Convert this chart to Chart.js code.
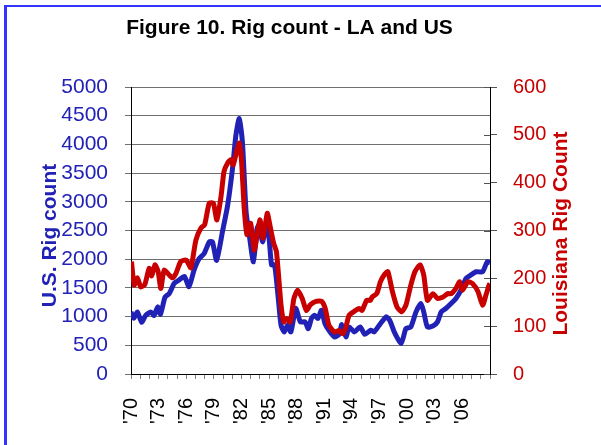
<!DOCTYPE html>
<html>
<head>
<meta charset="utf-8">
<script src="https://cdn.jsdelivr.net/npm/chart.js@4"></script>
<style>
  html, body { margin: 0; padding: 0; background: #fff; overflow: hidden; }
  #frame { position: absolute; left: 4px; top: 5px; width: 700px; height: 500px;
           border-left: 3px solid #3333ff; border-top: 2px solid #3333ff; }
  #wrap { position: absolute; left: 0; top: 0; width: 601px; height: 445px; }
</style>
</head>
<body>
<div id="frame"></div>
<div id="wrap"><canvas id="rig-chart" width="601" height="445"></canvas></div>
<script>
// ── Data (x = year, fractional) ─────────────────────────────────
const CHART_TITLE = 'Figure 10. Rig count - LA and US';
const US_TITLE    = 'U.S. Rig count';
const LA_TITLE    = 'Louisiana Rig Count';

const usYears = [
  1970.0, 1970.3, 1970.7, 1971.15, 1971.6, 1972.15, 1972.5, 1972.9, 1973.2, 1973.7,
  1974.15, 1974.7, 1975.2, 1975.8, 1976.3, 1976.85, 1977.4, 1977.95, 1978.5, 1978.85,
  1979.3, 1979.95, 1980.5, 1981.03, 1981.4, 1981.76, 1982.1, 1982.5, 1982.85, 1983.3,
  1983.7, 1983.9, 1984.3, 1984.65, 1985.0, 1985.27, 1985.6, 1986.0, 1986.3, 1986.65,
  1987.0, 1987.37, 1987.9, 1988.4, 1988.9, 1989.26, 1989.6, 1989.95, 1990.3, 1990.7,
  1991.07, 1991.5, 1992.1, 1992.6, 1992.9, 1993.35, 1993.7, 1994.26, 1994.9, 1995.4,
  1996.05, 1996.4, 1996.97, 1997.7, 1998.1, 1998.6, 1999.35, 1999.87, 2000.4, 2000.96,
  2001.5, 2001.8, 2002.2, 2002.8, 2003.3, 2003.7, 2004.2, 2004.77, 2005.3, 2005.85,
  2006.4, 2006.9, 2007.5, 2008.2, 2008.7, 2009.0,
];
const usRigs = [
  1080, 970, 1080, 900, 1020, 1080, 1020, 1170, 1040, 1340,
  1400, 1580, 1635, 1700, 1520, 1810, 2010, 2100, 2300, 2300,
  1980, 2490, 2940, 3585, 4166, 4450, 4050, 2830, 2420, 1955,
  2540, 2595, 2300, 2595, 2360, 1900, 1900, 1316, 850, 733,
  850, 733, 1141, 908, 908, 790, 967, 1024, 967, 1111,
  879, 763, 646, 690, 862, 646, 820, 733, 820, 690,
  763, 733, 850, 995, 937, 733, 530, 792, 820, 1082,
  1228, 1082, 820, 835, 908, 1082, 1141, 1228, 1316, 1461,
  1665, 1723, 1781, 1781, 1955, 1937,
];

const laYears = [
  1970.05, 1970.35, 1970.7, 1971.05, 1971.5, 1971.97, 1972.25, 1972.6, 1972.95, 1973.24,
  1973.6, 1974.15, 1974.5, 1974.9, 1975.4, 1976.0, 1976.5, 1977.05, 1977.6, 1978.0,
  1978.5, 1978.95, 1979.33, 1979.8, 1980.1, 1980.5, 1980.85, 1981.1, 1981.35, 1981.76,
  1982.0, 1982.3, 1982.6, 1983.0, 1983.4, 1984.0, 1984.35, 1984.8, 1985.15, 1985.5,
  1985.8, 1986.3, 1986.6, 1986.9, 1987.3, 1987.7, 1988.1, 1988.6, 1989.05, 1989.5,
  1990.1, 1990.7, 1991.1, 1991.5, 1992.1, 1992.6, 1993.0, 1993.3, 1993.7, 1994.25,
  1994.8, 1995.1, 1995.6, 1996.0, 1996.2, 1996.7, 1997.1, 1997.5, 1997.9, 1998.4,
  1998.9, 1999.4, 1999.87, 2000.4, 2000.85, 2001.4, 2001.8, 2002.2, 2002.8, 2003.3,
  2003.9, 2004.4, 2004.8, 2005.3, 2005.7, 2006.0, 2006.6, 2007.1, 2007.7, 2008.2,
  2008.56, 2008.9, 2009.0,
];
const laRigs = [
  235, 186, 201, 182, 187, 221, 205, 228, 214, 179,
  217, 207, 201, 211, 235, 238, 222, 280, 305, 312,
  357, 357, 322, 374, 423, 441, 448, 437, 455, 483,
  447, 346, 291, 315, 259, 322, 284, 336, 305, 273,
  256, 144, 109, 116, 109, 158, 175, 158, 133, 145,
  152, 152, 137, 102, 88, 91, 84, 95, 123, 131,
  137, 133, 154, 154, 161, 168, 193, 207, 214, 172,
  140, 130, 144, 186, 214, 228, 207, 154, 168, 158,
  161, 168, 168, 179, 193, 175, 193, 189, 172, 144,
  165, 186, 189,
];

const labelYears = [1970, 1973, 1976, 1979, 1982, 1985, 1988, 1991, 1994, 1997, 2000, 2003, 2006];

const BLUE = '#2121b5';
const RED  = '#c80000';
const FONT = 'Arial, "Liberation Sans", sans-serif';

Chart.defaults.font.family = FONT;

// axis titles read bottom-to-top on both sides, plus the inner half of the right ticks
const axisTitles = {
  id: 'axisTitles',
  afterDraw(chart) {
    const c = chart.ctx;
    const area = chart.chartArea;
    const y1 = chart.scales.y1;
    c.save();
    c.strokeStyle = '#555';
    c.lineWidth = 1;
    y1.ticks.forEach(t => {
      const py = Math.round(y1.getPixelForValue(t.value)) + 0.5;
      c.beginPath();
      c.moveTo(area.right - 6, py);
      c.lineTo(area.right, py);
      c.stroke();
    });

    c.fillStyle = '#000';
    c.font = 'bold 21px ' + FONT;
    c.textAlign = 'center';
    c.textBaseline = 'alphabetic';
    c.fillText(CHART_TITLE, 289.5, 34);

    c.fillStyle = BLUE;
    c.translate(56, 235.5);
    c.rotate(-Math.PI / 2);
    c.fillText(US_TITLE, 0, 0);
    c.setTransform(1, 0, 0, 1, 0, 0);

    c.fillStyle = RED;
    c.translate(567, 233.5);
    c.rotate(-Math.PI / 2);
    c.fillText(LA_TITLE, 0, 0);
    c.restore();
  },
};

new Chart(document.getElementById('rig-chart'), {
  type: 'line',
  data: {
    datasets: [
      {
        label: 'Louisiana',
        data: laYears.map((x, i) => ({ x, y: laRigs[i] })),
        yAxisID: 'y1',
        borderColor: RED,
        borderWidth: 5,
        pointRadius: 0,
        tension: 0.2,
        order: 0,
      },
      {
        label: 'U.S.',
        data: usYears.map((x, i) => ({ x, y: usRigs[i] })),
        yAxisID: 'y',
        borderColor: BLUE,
        borderWidth: 5,
        pointRadius: 0,
        tension: 0.2,
        order: 1,
      },
    ],
  },
  options: {
    responsive: false,
    animation: false,
    layout: { padding: { top: 87, left: 0, right: 0, bottom: 0 } },
    plugins: { legend: { display: false }, tooltip: { enabled: false } },
    scales: {
      x: {
        type: 'linear',
        min: 1970,
        max: 2009,
        afterFit: s => { s.height = 71; },
        ticks: {
          stepSize: 1,
          autoSkip: false,
          minRotation: 90,
          maxRotation: 90,
          padding: 19,
          color: '#000',
          font: { size: 20 },
          callback: v => labelYears.includes(v) ? "'" + String(v).slice(2) : '',
        },
        grid: { drawOnChartArea: false, tickLength: 5, color: '#808080' },
        border: { color: '#000', width: 1 },
      },
      y: {
        position: 'left',
        min: 0,
        max: 5000,
        afterFit: s => { s.width = 131; },
        ticks: { stepSize: 500, padding: 17, color: BLUE, font: { size: 21 }, callback: v => String(v) },
        grid: { color: '#707070', tickLength: 6 },
        border: { color: '#000', width: 1 },
      },
      y1: {
        position: 'right',
        min: 0,
        max: 600,
        afterFit: s => { s.width = 111; },
        ticks: { stepSize: 100, padding: 16, color: RED, font: { size: 20 }, callback: v => String(v) },
        grid: { drawOnChartArea: false, tickLength: 7, color: '#555' },
        border: { color: '#000', width: 1 },
      },
    },
  },
  plugins: [axisTitles],
});
</script>
</body>
</html>
